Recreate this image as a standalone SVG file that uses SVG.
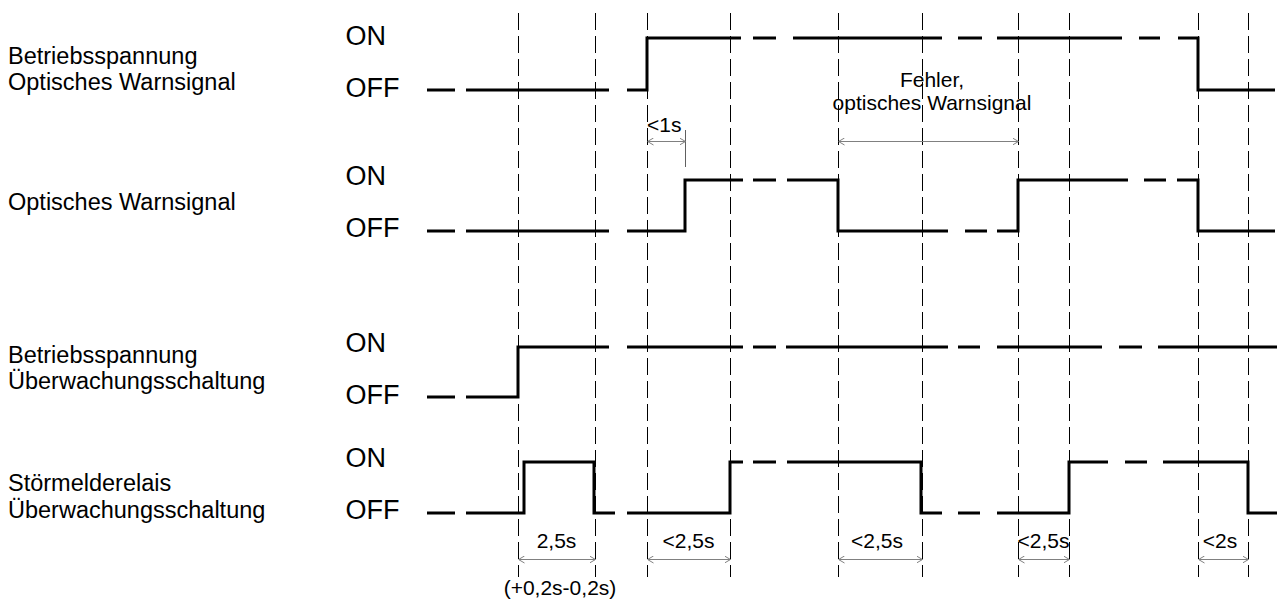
<svg xmlns="http://www.w3.org/2000/svg" width="1277" height="603" viewBox="0 0 1277 603">
<style>
  .lbl { font-family: "Liberation Sans", Arial, sans-serif; font-size: 23.5px; fill: #000; }
  .lvl { font-family: "Liberation Sans", Arial, sans-serif; font-size: 27px; fill: #000; }
  .dim { font-family: "Liberation Sans", Arial, sans-serif; font-size: 21px; fill: #000; }
  .grid { stroke: #000; stroke-width: 1; stroke-dasharray: 17 6; fill: none; }
  .sig { stroke: #000; stroke-width: 3; fill: none; stroke-linejoin: miter; stroke-linecap: butt; }
  .arr { stroke: #808080; stroke-width: 1; fill: none; marker-start: url(#ah); marker-end: url(#ah); }
  .ext { stroke: #606060; stroke-width: 1; fill: none; }
</style>
<defs>
  <marker id="ah" viewBox="0 0 6 8" refX="6" refY="4" markerWidth="6" markerHeight="8" markerUnits="userSpaceOnUse" orient="auto-start-reverse">
    <path d="M0,0.5 L6,4 L0,7.5" fill="none" stroke="#808080" stroke-width="1"/>
  </marker>
</defs>
<rect width="1277" height="603" fill="#fff"/>

<g id="grid">
  <path class="grid" d="M518.5 13V577 M595.5 13V577 M647.5 13V577 M730.5 13V577 M838.5 13V577 M922.5 13V577 M1018.5 13V577 M1069.5 13V577 M1198.5 13V577 M1248.5 13V577"/>
</g>

<g id="signal-betriebsspannung-warnsignal">
  <text class="lbl" x="8" y="64">Betriebsspannung</text>
  <text class="lbl" x="8" y="90">Optisches Warnsignal</text>
  <text class="lvl" x="345.5" y="45">ON</text>
  <text class="lvl" x="345.5" y="97">OFF</text>
  <path class="sig" d="M427 90H455 M466 90H609 M627 90H647V38H741 M753 38H776 M793 38H942 M958 38H982 M997 38H1122 M1139 38H1160 M1178 38H1198V90H1275"/>
</g>

<g id="signal-warnsignal">
  <text class="lbl" x="8" y="210">Optisches Warnsignal</text>
  <text class="lvl" x="345.5" y="185">ON</text>
  <text class="lvl" x="345.5" y="237">OFF</text>
  <path class="sig" d="M427 231H455 M466 231H609 M627 231H685V180H743 M753 180H776 M787 180H838V231H948 M965 231H987 M997 231H1018V180H1128 M1144 180H1166 M1177 180H1198V231H1275"/>
</g>

<g id="signal-betriebsspannung-ueberwachung">
  <text class="lbl" x="8" y="363">Betriebsspannung</text>
  <text class="lbl" x="8" y="389">Überwachungsschaltung</text>
  <text class="lvl" x="345.5" y="352">ON</text>
  <text class="lvl" x="345.5" y="404">OFF</text>
  <path class="sig" d="M427 397H455 M466 397H518V347H609 M627 347H743 M753 347H776 M786 347H948 M958 347H980 M997 347H1102 M1119 347H1142 M1158 347H1277"/>
</g>

<g id="signal-stoermelderelais">
  <text class="lbl" x="8" y="491">Störmelderelais</text>
  <text class="lbl" x="8" y="518">Überwachungsschaltung</text>
  <text class="lvl" x="345.5" y="467">ON</text>
  <text class="lvl" x="345.5" y="519">OFF</text>
  <path class="sig" d="M427 513H455 M466 513H524V462H594V513H615 M627 513H730V462H743 M753 462H776 M787 462H921V513H942 M958 513H980 M997 513H1069V462H1108 M1125 462H1147 M1163 462H1248V513H1277"/>
</g>

<g id="connectors">
  <path class="ext" d="M685.5 130V167"/>
  <path class="arr" d="M647.5 141.5H685.5"/>
  <path class="arr" d="M838.5 141.5H1018.5"/>
  <path class="arr" d="M518.5 559.5H595.5"/>
  <path class="arr" d="M647.5 559.5H730.5"/>
  <path class="arr" d="M838.5 559.5H922.5"/>
  <path class="arr" d="M1018.5 559.5H1069.5"/>
  <path class="arr" d="M1198.5 559.5H1248.5"/>
</g>

<g id="dimension-labels">
  <text class="dim" x="647" y="132">&lt;1s</text>
  <text class="dim" x="932" y="87" text-anchor="middle">Fehler,</text>
  <text class="dim" x="932" y="110" text-anchor="middle">optisches Warnsignal</text>
  <text class="dim" x="556.5" y="548" text-anchor="middle">2,5s</text>
  <text class="dim" x="560" y="595" text-anchor="middle">(+0,2s-0,2s)</text>
  <text class="dim" x="688.5" y="548" text-anchor="middle">&lt;2,5s</text>
  <text class="dim" x="877" y="548" text-anchor="middle">&lt;2,5s</text>
  <text class="dim" x="1043.5" y="548" text-anchor="middle">&lt;2,5s</text>
  <text class="dim" x="1220" y="548" text-anchor="middle">&lt;2s</text>
</g>
</svg>
